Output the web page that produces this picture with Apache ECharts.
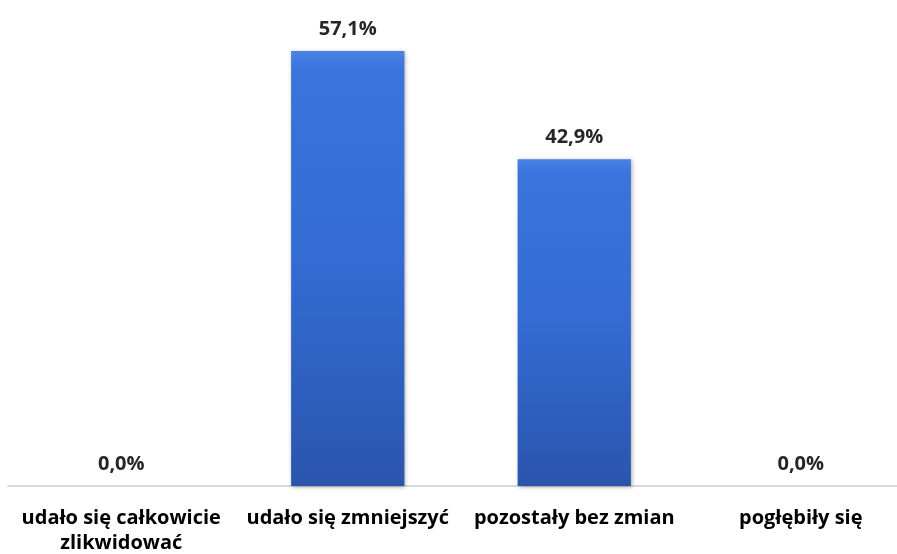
<!DOCTYPE html>
<html><head><meta charset="utf-8">
<script src="https://cdn.jsdelivr.net/npm/echarts@6/dist/echarts.min.js"></script>
<style>html,body{margin:0;padding:0;background:#fff}#c{width:897px;height:554px}</style>
</head><body><div id="c"></div>
<script>
const categories = ['udało się całkowicie\nzlikwidować', 'udało się zmniejszyć', 'pozostały bez zmian', 'pogłębiły się'];
const values = [0.0, 57.1, 42.9, 0.0];

const chart = echarts.init(document.getElementById('c'));
chart.setOption({
  animation: false,
  grid: { left: 8, top: 29, width: 906, height: 457, outerBoundsMode: 'none', containLabel: false },
  xAxis: {
    type: 'category', data: categories,
    axisTick: { show: false },
    axisLine: { lineStyle: { color: '#d9d9d9', width: 2 } },
    axisLabel: { interval: 0, margin: 20, color: '#000', fontFamily: 'Open Sans', fontWeight: 'bold', fontSize: 20, lineHeight: 25, hideOverlap: false }
  },
  yAxis: { type: 'value', min: 0, max: 60, show: false, splitLine: { show: false } },
  series: [{
    type: 'bar', data: values, barWidth: '50%',
    itemStyle: {
      color: new echarts.graphic.LinearGradient(0, 0, 0, 1, [
        { offset: 0, color: '#4a82e4' }, { offset: 0.04, color: '#3a74dc' }, { offset: 0.5, color: '#336bd2' }, { offset: 1, color: '#2a55ad' }
      ]),
      borderWidth: 0,
      shadowColor: 'rgba(0,0,0,0.35)', shadowBlur: 4, shadowOffsetX: 1, shadowOffsetY: 1
    },
    label: {
      show: true, position: 'top', distance: 12, color: '#262626',
      fontFamily: 'Open Sans', fontWeight: 'bold', fontSize: 20,
      formatter: p => p.value.toFixed(1).replace('.', ',') + '%'
    }
  }]
});
</script></body></html>
